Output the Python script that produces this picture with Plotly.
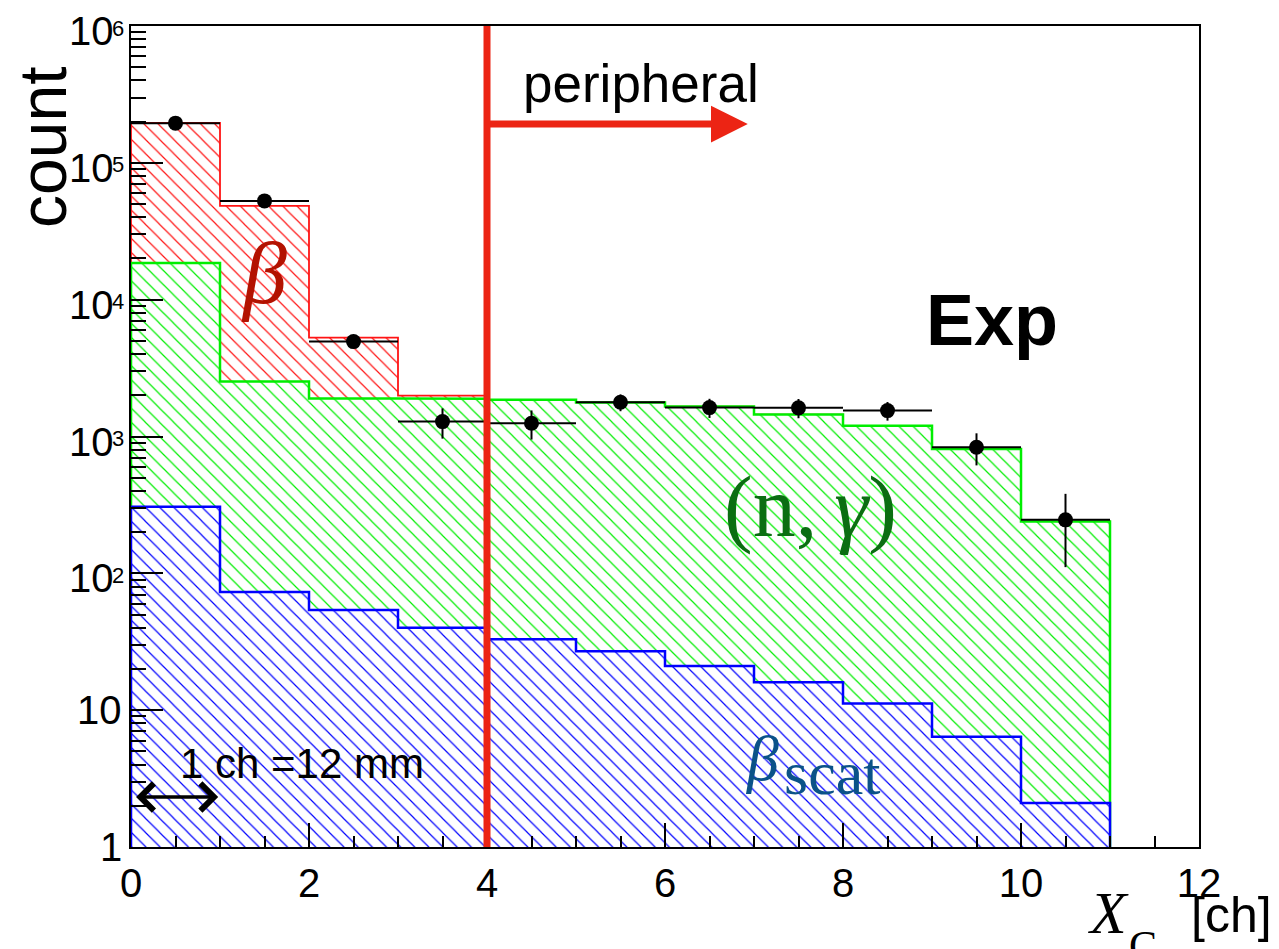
import math
import plotly.graph_objects as go

# ---------------- data ----------------
bin_edges = [0, 1, 2, 3, 4, 5, 6, 7, 8, 9, 10, 11, 12]
bin_centers = [0.5, 1.5, 2.5, 3.5, 4.5, 5.5, 6.5, 7.5, 8.5, 9.5, 10.5]

# simulated components (per bin, not stacked)
beta_counts = [177000, 46000, 3390, 100, 0, 0, 0, 0, 0, 0, 0, 0]
ngamma_counts = [18200, 2450, 1840, 1850, 1820, 1745, 1635, 1430, 1185, 805, 237, 0]
scat_counts = [306, 73, 54, 40, 33, 27, 21, 16, 11.2, 6.4, 2.1, 0]

# experimental points
exp_counts = [195000, 52700, 4940, 1285, 1250, 1780, 1626, 1620, 1546, 835, 246]
exp_errors = [440, 230, 70, 320, 300, 250, 260, 260, 240, 220, 135]
exp_half_width = [0.5, 0.5, 0.5, 0.5, 0.5, 0.5, 0.5, 0.5, 0.5, 0.5, 0.5]

y_tick_vals = [1, 10, 100, 1000, 10000, 100000, 1000000]
y_tick_base = ["1", "10", "10", "10", "10", "10", "10"]
y_tick_exp = ["", "", "2", "3", "4", "5", "6"]
x_tick_vals = [0, 2, 4, 6, 8, 10, 12]
x_tick_text = ["0", "2", "4", "6", "8", "10", "12"]

Y_FLOOR = 1  # lower edge of the log axis
CUT_X = 4

# stacked tops (THStack style)
scat_top = list(scat_counts)
ngamma_top = [a + b for a, b in zip(scat_top, ngamma_counts)]
total_top = [a + b for a, b in zip(ngamma_top, beta_counts)]


def step_polygon(edges, vals, floor):
    last = max(i for i, v in enumerate(vals) if v > 0)
    xs = [edges[0]]
    ys = [floor]
    for i in range(last + 1):
        v = max(vals[i], floor)
        xs += [edges[i], edges[i + 1]]
        ys += [v, v]
    xs.append(edges[last + 1])
    ys.append(floor)
    return xs, ys


SANS = "Liberation Sans, Arial, Helvetica, sans-serif"
SERIF = "Liberation Serif, Times New Roman, serif"
TICK_SIZE = 40

fig = go.Figure()

for vals, col, lw in [(total_top, "#ff1414", 1.8), (ngamma_top, "#00ee00", 2.5),
                      (scat_top, "#0000ff", 2.5)]:
    xs, ys = step_polygon(bin_edges, vals, Y_FLOOR)
    fig.add_trace(go.Scatter(
        x=xs, y=ys, mode="lines", fill="toself",
        line=dict(color=col, width=lw),
        fillcolor="white",
        fillpattern=dict(shape="\\", fgcolor=col, bgcolor="white",
                         size=10, solidity=0.12, fillmode="replace"),
        hoverinfo="skip", showlegend=False,
    ))

fig.add_trace(go.Scatter(
    x=bin_centers, y=exp_counts, mode="markers",
    marker=dict(color="black", size=15),
    error_y=dict(type="data", array=exp_errors, color="black", thickness=2, width=0),
    error_x=dict(type="data", array=exp_half_width, color="black", thickness=2, width=0),
    showlegend=False,
))

# peripheral cut line
fig.add_shape(type="line", xref="x", yref="paper", x0=CUT_X, x1=CUT_X, y0=0, y1=1,
              line=dict(color="#ec2414", width=7), layer="above")


def label(x, y, text, family, size, color, **kw):
    d = dict(x=x, y=y, xref="paper", yref="paper", text=text, showarrow=False,
             xanchor="center", yanchor="middle",
             font=dict(family=family, size=size, color=color))
    d.update(kw)
    return d


annotations = [
    # peripheral arrow
    dict(x=6.93, y=0.8806, xref="x", yref="paper", ax=CUT_X, ay=0,
         axref="x", ayref="pixel", showarrow=True, arrowhead=2, arrowsize=1.05,
         arrowwidth=7, arrowcolor="#ec2414", text=""),
    label(0.4775, 0.930, "peripheral", SANS, 53, "black"),
    label(0.8066, 0.642, "<b>Exp</b>", SANS, 72, "black"),
    label(0.1245, 0.699, "<i>β</i>", SERIF, 88, "#b31200"),
    label(0.6367, 0.414, "(n,\u2009<i>γ</i>)", SERIF, 86, "#0b6e12"),
    label(0.5908, 0.1079, "<i>β</i>", SERIF, 64, "#0b5288"),
    label(0.6564, 0.0901, "scat", SERIF, 62, "#0b5288"),
    label(0.160, 0.1017, "1 ch =12 mm", SANS, 42, "black"),
    # 1 ch double arrow
    dict(x=0.98, y=0.0609, xref="x", yref="paper", ax=0.04, ay=0,
         axref="x", ayref="pixel", showarrow=True, arrowhead=4, startarrowhead=4,
         arrowside="end+start", arrowsize=1.5, startarrowsize=1.5, arrowwidth=3.5,
         arrowcolor="black", text=""),
    # axis titles
    label(-0.0825, 0.8526, "count", SANS, 66, "black", textangle=-90),
    label(0.9157, -0.0801, "<i>X</i>", SERIF, 60, "black"),
    label(0.9471, -0.1203, "C", SERIF, 42, "black"),
    label(1.0304, -0.0828, "[ch]", SANS, 50, "black"),
]

# y tick labels (ROOT style "10" with a small exponent)
for v, base, ex in zip(y_tick_vals, y_tick_base, y_tick_exp):
    ylog = math.log10(v)
    if ex:
        annotations.append(dict(x=0, y=ylog, xref="paper", yref="y", text=base,
                                showarrow=False, xanchor="right", yanchor="middle",
                                xshift=-15, yshift=-5,
                                font=dict(family=SANS, size=TICK_SIZE, color="black")))
        annotations.append(dict(x=0, y=ylog, xref="paper", yref="y", text=ex,
                                showarrow=False, xanchor="left", yanchor="middle",
                                xshift=-21, yshift=-2,
                                font=dict(family=SANS, size=22, color="black")))
    else:
        annotations.append(dict(x=0, y=ylog, xref="paper", yref="y", text=base,
                                showarrow=False, xanchor="right", yanchor="middle",
                                xshift=-7, yshift=0,
                                font=dict(family=SANS, size=TICK_SIZE, color="black")))

fig.update_layout(
    width=1279, height=949,
    margin=dict(l=123, r=88, t=18, b=110, autoexpand=False),
    paper_bgcolor="white", plot_bgcolor="white",
    showlegend=False,
    annotations=annotations,
    xaxis=dict(
        range=[0, 12], showgrid=False, zeroline=False, automargin=False,
        showline=True, linecolor="black", linewidth=2, mirror=True,
        ticks="inside", ticklen=24, tickwidth=2, tickcolor="black",
        tickvals=x_tick_vals, ticktext=x_tick_text,
        tickfont=dict(family=SANS, size=TICK_SIZE, color="black"),
        ticklabelstandoff=0,
        minor=dict(ticks="inside", ticklen=11, tickwidth=2, tickcolor="black", dtick=0.5),
    ),
    yaxis=dict(
        type="log", range=[0, 6], showgrid=False, zeroline=False, automargin=False,
        showline=True, linecolor="black", linewidth=2, mirror=True,
        ticks="inside", ticklen=32, tickwidth=2, tickcolor="black",
        tickvals=y_tick_vals, showticklabels=False,
        minor=dict(ticks="inside", ticklen=15, tickwidth=2, tickcolor="black", dtick="D1"),
    ),
)

fig.write_html("out.html")
